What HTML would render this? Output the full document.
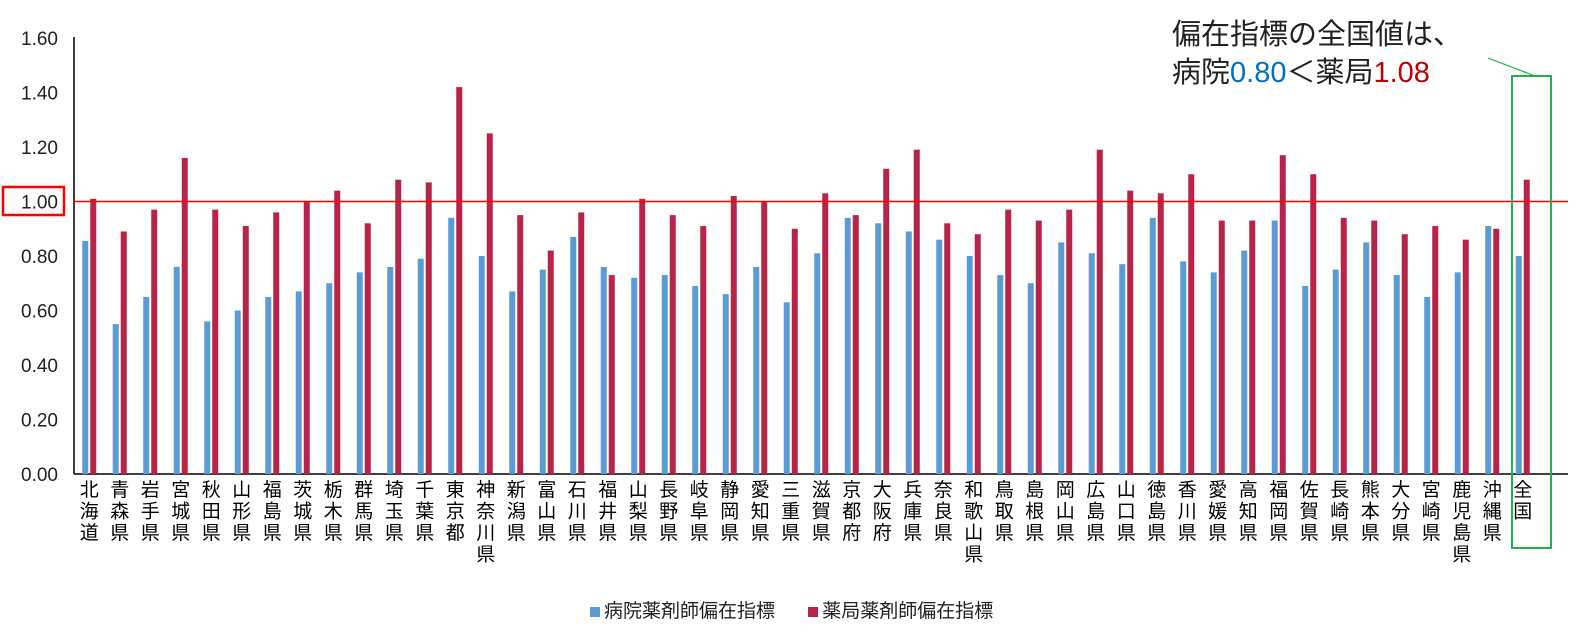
<!DOCTYPE html>
<html><head><meta charset="utf-8"><style>
body{margin:0;background:#fff;}
svg{display:block;font-family:"Liberation Sans","Noto Sans CJK JP",sans-serif;}
</style></head><body>
<svg id="c" width="1588" height="641"></svg>
<script>
const categories=["北海道","青森県","岩手県","宮城県","秋田県","山形県","福島県","茨城県","栃木県","群馬県","埼玉県","千葉県","東京都","神奈川県","新潟県","富山県","石川県","福井県","山梨県","長野県","岐阜県","静岡県","愛知県","三重県","滋賀県","京都府","大阪府","兵庫県","奈良県","和歌山県","鳥取県","島根県","岡山県","広島県","山口県","徳島県","香川県","愛媛県","高知県","福岡県","佐賀県","長崎県","熊本県","大分県","宮崎県","鹿児島県","沖縄県","全国"];
const hospital=[0.855,0.55,0.65,0.76,0.56,0.60,0.65,0.67,0.70,0.74,0.76,0.79,0.94,0.80,0.67,0.75,0.87,0.76,0.72,0.73,0.69,0.66,0.76,0.63,0.81,0.94,0.92,0.89,0.86,0.80,0.73,0.70,0.85,0.81,0.77,0.94,0.78,0.74,0.82,0.93,0.69,0.75,0.85,0.73,0.65,0.74,0.91,0.80];
const pharmacy=[1.01,0.89,0.97,1.16,0.97,0.91,0.96,1.00,1.04,0.92,1.08,1.07,1.42,1.25,0.95,0.82,0.96,0.73,1.01,0.95,0.91,1.02,1.00,0.90,1.03,0.95,1.12,1.19,0.92,0.88,0.97,0.93,0.97,1.19,1.04,1.03,1.10,0.93,0.93,1.17,1.10,0.94,0.93,0.88,0.91,0.86,0.90,1.08];
const ticks=[0,0.2,0.4,0.6,0.8,1.0,1.2,1.4,1.6];
const svg=document.getElementById('c');const NS='http://www.w3.org/2000/svg';
const X0=74,BW=30.5,Y0=474,K=272.5;
const y=v=>Y0-v*K, xc=i=>X0+BW*(i+0.5);
function mk(t,a,p){const e=document.createElementNS(NS,t);for(const k in a)e.setAttribute(k,a[k]);(p||svg).appendChild(e);return e;}
ticks.forEach(t=>{const e=mk('text',{x:58,y:y(t)+7,'text-anchor':'end','font-size':19,fill:'#222'});e.textContent=t.toFixed(2);

});
const ax=mk('line',{x1:X0,y1:37,x2:X0,y2:Y0,stroke:'#000','stroke-width':1.5});


const bx=mk('line',{x1:X0,y1:Y0,x2:1568,y2:Y0,stroke:'#000','stroke-width':1.5});


categories.forEach((c,i)=>{const cx=xc(i);
const b=mk('rect',{x:cx-7,y:y(hospital[i]),width:6,height:hospital[i]*K,fill:'#5b9bd5'});


const r=mk('rect',{x:cx+1,y:y(pharmacy[i]),width:6,height:pharmacy[i]*K,fill:'#b82447'});


const t=mk('text',{x:cx,'text-anchor':'middle','font-size':19,fill:'#000'});


[...c].forEach((ch,j)=>{const s=mk('tspan',{x:cx,y:496+j*21.5},t);s.textContent=ch;});});
const rl=mk('line',{x1:X0,y1:y(1),x2:1568,y2:y(1),stroke:'#ff0000','stroke-width':1.5});


const rb=mk('rect',{x:3,y:187,width:61,height:28,fill:'none',stroke:'#ff0000','stroke-width':2.5});


const gb=mk('rect',{x:1512,y:76,width:39,height:472,fill:'none',stroke:'#22b14c','stroke-width':2});


const gl=mk('line',{x1:1488,y1:58,x2:1535,y2:76,stroke:'#22b14c','stroke-width':1.2});


</script>
<div style="position:absolute;left:1172px;top:16px;font-family:'Liberation Sans','Noto Sans CJK JP',sans-serif;font-size:29px;line-height:38px;color:#222;white-space:nowrap;">偏在指標の全国値は、<br>病院<span style="color:#0070c0">0.80</span>＜薬局<span style="color:#c00000">1.08</span></div>
<div style="position:absolute;left:590px;top:596px;font-family:'Liberation Sans','Noto Sans CJK JP',sans-serif;font-size:19px;color:#222;white-space:nowrap;">
<span><span style="display:inline-block;width:10px;height:10px;background:#5b9bd5;margin-right:4px"></span>病院薬剤師偏在指標</span>
<span style="margin-left:28px"><span style="display:inline-block;width:10px;height:10px;background:#b82447;margin-right:4px"></span>薬局薬剤師偏在指標</span></div>
</body></html>
